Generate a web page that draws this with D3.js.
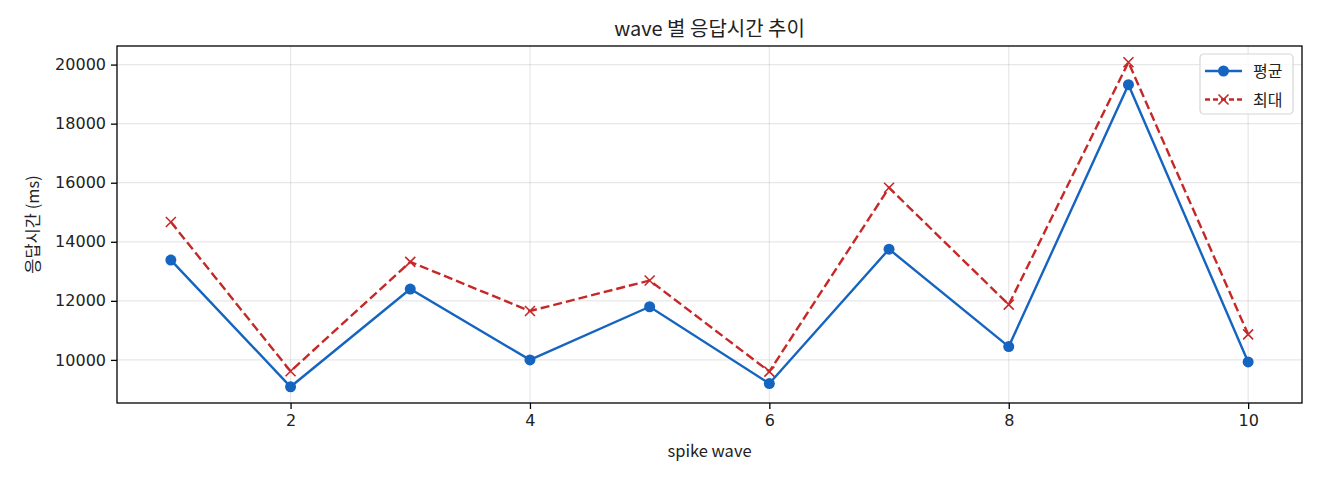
<!DOCTYPE html>
<html>
<head>
<meta charset="utf-8">
<script src="https://cdn.jsdelivr.net/npm/d3@7"></script>
<style>
  body { margin: 0; background: #fff; }
  text { font-family: "Noto Sans CJK KR", "Noto Sans", sans-serif; fill: #222; }
  .tick text { font-family: "DejaVu Sans", "Noto Sans CJK KR", sans-serif; }
</style>
</head>
<body>
<div id="chart"></div>
<script>
// Data
const waves = [1, 2, 3, 4, 5, 6, 7, 8, 9, 10];
const avgMs = [13380, 9090, 12400, 10000, 11800, 9200, 13750, 10450, 19320, 9930];
const maxMs = [14670, 9615, 13320, 11655, 12690, 9605, 15830, 11870, 20080, 10865];
const xTicks = [2, 4, 6, 8, 10];
const yTicks = [10000, 12000, 14000, 16000, 18000, 20000];

const titleText = 'wave 별 응답시간 추이';
const xLabel = 'spike wave';
const yLabel = '응답시간 (ms)';
const seriesNames = ['평균', '최대'];

// Set up dimensions
const W = 1320, H = 480;
const margin = { top: 46, right: 18, bottom: 77, left: 117 };
const width = W - margin.left - margin.right;
const height = H - margin.top - margin.bottom;

const blue = '#1565c0';
const red = '#c62828';

const svg = d3.select('#chart')
    .append('svg')
    .attr('width', W)
    .attr('height', H);

const g = svg.append('g')
    .attr('transform', `translate(${margin.left}, ${margin.top})`);

// Scales with 5% padding like matplotlib
const xPad = (d3.max(waves) - d3.min(waves)) * 0.05;
const xScale = d3.scaleLinear()
    .domain([d3.min(waves) - xPad, d3.max(waves) + xPad])
    .range([0, width]);

const allY = avgMs.concat(maxMs);
const yLo = d3.min(allY), yHi = d3.max(allY);
const yPad = (yHi - yLo) * 0.05;
const yScale = d3.scaleLinear()
    .domain([yLo - yPad, yHi + yPad])
    .range([height, 0]);

// Grid
g.append('g')
    .selectAll('line')
    .data(xTicks)
    .enter()
    .append('line')
    .attr('x1', d => xScale(d)).attr('x2', d => xScale(d))
    .attr('y1', 0).attr('y2', height)
    .attr('stroke', '#b0b0b0').attr('stroke-opacity', 0.3).attr('stroke-width', 1.2);

g.append('g')
    .selectAll('line')
    .data(yTicks)
    .enter()
    .append('line')
    .attr('x1', 0).attr('x2', width)
    .attr('y1', d => yScale(d)).attr('y2', d => yScale(d))
    .attr('stroke', '#b0b0b0').attr('stroke-opacity', 0.3).attr('stroke-width', 1.2);

// Axes
const xAxis = d3.axisBottom(xScale)
    .tickValues(xTicks)
    .tickSize(6)
    .tickPadding(6)
    .tickFormat(d3.format('d'));

const yAxis = d3.axisLeft(yScale)
    .tickValues(yTicks)
    .tickSize(6)
    .tickPadding(5)
    .tickFormat(d3.format('d'));

const gx = g.append('g')
    .attr('transform', `translate(0, ${height})`)
    .call(xAxis);
const gy = g.append('g').call(yAxis);

[gx, gy].forEach(a => {
    a.select('.domain').remove();
    a.selectAll('.tick line').attr('stroke', '#000').attr('stroke-width', 1.3);
    a.selectAll('.tick text').attr('font-size', 16).style('fill', '#222');
});

// Frame
g.append('rect')
    .attr('width', width)
    .attr('height', height)
    .attr('fill', 'none')
    .attr('stroke', '#000')
    .attr('stroke-width', 1.3);

// Lines
const line = d3.line()
    .x((d, i) => xScale(waves[i]))
    .y(d => yScale(d));

g.append('path')
    .datum(maxMs)
    .attr('d', line)
    .attr('fill', 'none')
    .attr('stroke', red)
    .attr('stroke-width', 2.4)
    .attr('stroke-dasharray', '9,4');

g.append('path')
    .datum(avgMs)
    .attr('d', line)
    .attr('fill', 'none')
    .attr('stroke', blue)
    .attr('stroke-width', 2.4);

// Markers
g.selectAll('.dot')
    .data(avgMs)
    .enter()
    .append('circle')
    .attr('class', 'dot')
    .attr('cx', (d, i) => xScale(waves[i]))
    .attr('cy', d => yScale(d))
    .attr('r', 5.5)
    .attr('fill', blue);

const xMark = 'M-5,-5L5,5M-5,5L5,-5';
g.selectAll('.xmark')
    .data(maxMs)
    .enter()
    .append('path')
    .attr('class', 'xmark')
    .attr('transform', (d, i) => `translate(${xScale(waves[i])}, ${yScale(d)})`)
    .attr('d', xMark)
    .attr('stroke', red)
    .attr('stroke-width', 1.6)
    .attr('fill', 'none');

// Title and labels
svg.append('text')
    .attr('x', margin.left + width / 2)
    .attr('y', 36)
    .attr('text-anchor', 'middle')
    .attr('font-size', 20)
    .text(titleText);

svg.append('text')
    .attr('x', margin.left + width / 2)
    .attr('y', 457)
    .attr('text-anchor', 'middle')
    .attr('font-size', 16.5)
    .text(xLabel);

svg.append('text')
    .attr('transform', `translate(39, ${margin.top + height / 2}) rotate(-90)`)
    .attr('text-anchor', 'middle')
    .attr('font-size', 16.5)
    .text(yLabel);

// Legend
const legend = svg.append('g')
    .attr('transform', 'translate(1200, 54)');

legend.append('rect')
    .attr('width', 93)
    .attr('height', 60)
    .attr('rx', 4)
    .attr('fill', '#fff')
    .attr('fill-opacity', 0.8)
    .attr('stroke', '#d6d6d6')
    .attr('stroke-width', 1.2);

const rows = [
    { name: seriesNames[0], color: blue, dash: null, marker: 'circle' },
    { name: seriesNames[1], color: red, dash: '5,3', marker: 'x' }
];

rows.forEach((r, i) => {
    const ry = 17 + i * 28.5;
    const row = legend.append('g').attr('transform', `translate(0, ${ry})`);
    row.append('line')
        .attr('x1', 5).attr('x2', 42)
        .attr('y1', 0).attr('y2', 0)
        .attr('stroke', r.color)
        .attr('stroke-width', 2.4)
        .attr('stroke-dasharray', r.dash);
    if (r.marker === 'circle') {
        row.append('circle').attr('cx', 23.5).attr('cy', 0).attr('r', 5.5).attr('fill', r.color);
    } else {
        row.append('path')
            .attr('transform', 'translate(23.5, 0)')
            .attr('d', xMark)
            .attr('stroke', r.color)
            .attr('stroke-width', 1.6);
    }
    row.append('text')
        .attr('x', 53)
        .attr('y', 6)
        .attr('font-size', 16)
        .text(r.name);
});
</script>
</body>
</html>
